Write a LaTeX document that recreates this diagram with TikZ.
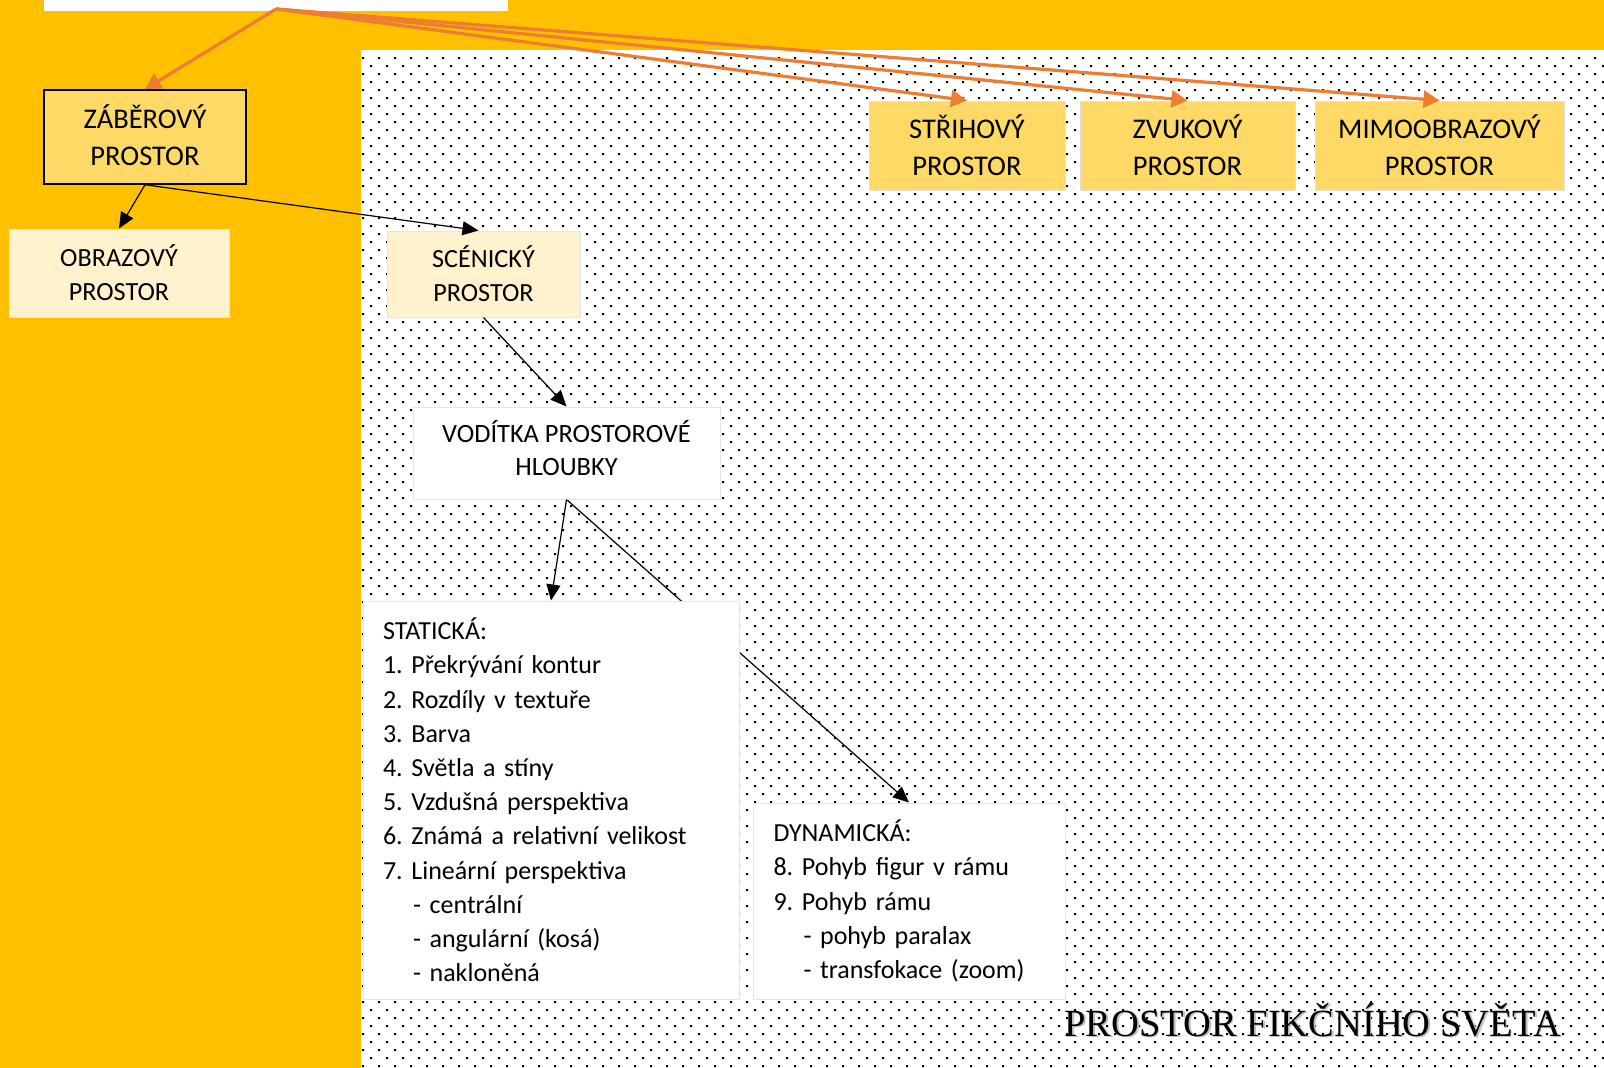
\documentclass[tikz,border=0pt]{standalone}
\usepackage{fontspec}
\setmainfont{Carlito}
\newfontfamily\titlefont{Liberation Serif}
\usetikzlibrary{arrows.meta}
\frenchspacing

\definecolor{bgyellow}{HTML}{FFC000}
\definecolor{boxgold}{HTML}{FFD966}
\definecolor{boxcream}{HTML}{FFF2CC}
\definecolor{arrorange}{HTML}{ED7D31}

\pgfdeclarelayer{bg}
\pgfdeclarelayer{hidden}
\pgfsetlayers{bg,hidden,main}

\begin{document}
\begin{tikzpicture}[x=1pt,y=-1pt,
  box/.style={rectangle, inner sep=0pt, align=center, text=black},
  goldbox/.style={box, fill=boxgold, draw=black!12, line width=1pt,
    font=\fontsize{28.5}{37}\selectfont},
  creambox/.style={box, fill=boxcream, draw=black!10, line width=1pt,
    font=\fontsize{26.2}{34}\selectfont},
  whitebox/.style={box, fill=white, draw=black!10, line width=1pt},
  listbox/.style={whitebox, align=left, inner xsep=20pt,
    font=\frenchspacing\fontsize{26}{34.2}\selectfont},
  orangearrow/.style={draw=arrorange, line width=3.2pt,
    -{Triangle[length=16pt,width=17pt]}},
  blackarrow/.style={draw=black, line width=1.2pt,
    -{Triangle[length=16pt,width=14pt]}},
]

% background and dotted panel
\begin{pgfonlayer}{bg}
  \fill[bgyellow] (0,0) rectangle (1604,1068);
  \useasboundingbox (0,0) rectangle (1604,1068);
  \fill[white] (361,50) rectangle (1604,1068);
  \foreach \r in {0,...,126} {
    \pgfmathsetmacro\yy{57+8*\r}
    \pgfmathsetmacro\off{8*mod(\r,2)}
    \fill[black] \foreach \c in {0,...,77}
      {(\off+362+16*\c,\yy) rectangle ++(2,2)};
  }
\end{pgfonlayer}

% source box at the top edge
\node[box, fill=white, minimum width=464pt, minimum height=11pt] (top) at (276,5.5) {};
\coordinate (src) at (276,9);

% upper row
\node[goldbox, draw=black, line width=1.5pt, minimum width=202pt, minimum height=94pt,
  text depth=4pt]
  (zab) at (145,137) {ZÁBĚROVÝ\\PROSTOR};
\node[goldbox, minimum width=196pt, minimum height=89pt]
  (strih) at (967,145.5) {STŘIHOVÝ\\PROSTOR};
\node[goldbox, minimum width=215pt, minimum height=89pt]
  (zvuk) at (1187.5,145.5) {ZVUKOVÝ\\PROSTOR};
\node[goldbox, minimum width=249pt, minimum height=89pt]
  (mimo) at (1439.5,145.5) {MIMOOBRAZOVÝ\\PROSTOR};

% second row
\node[creambox, minimum width=220pt, minimum height=88pt]
  (obr) at (119,273) {OBRAZOVÝ\\PROSTOR};
\node[creambox, minimum width=193pt, minimum height=86pt]
  (scen) at (483.5,274) {SCÉNICKÝ\\PROSTOR};

% depth cues
\node[whitebox, minimum width=307pt, minimum height=92pt, text depth=10pt,
  font=\fontsize{26.4}{32.5}\selectfont]
  (vod) at (566.5,453) {VODÍTKA PROSTOROVÉ\\HLOUBKY};

\node[listbox, minimum width=376pt, minimum height=398pt, text width=336pt]
  (stat) at (551,800) {STATICKÁ:\\
  1. Překrývání kontur\\
  2. Rozdíly v textuře\\
  3. Barva\\
  4. Světla a stíny\\
  5. Vzdušná perspektiva\\
  6. Známá a relativní velikost\\
  7. Lineární perspektiva\\
  \hspace*{30pt}- centrální\\
  \hspace*{30pt}- angulární (kosá)\\
  \hspace*{30pt}- nakloněná};

\node[listbox, minimum width=312pt, minimum height=196pt, text width=271pt]
  (dyn) at (909,901) {DYNAMICKÁ:\\
  8. Pohyb figur v rámu\\
  9. Pohyb rámu\\
  \hspace*{30pt}- pohyb paralax\\
  \hspace*{30pt}- transfokace (zoom)};

% title with its soft shadow
\node[anchor=base west, text=black!25, font=\titlefont\fontsize{38.5}{40}\selectfont]
  (titleshadow) at (1062.5,1037.5) {PROSTOR FIKČNÍHO SVĚTA};
\node[anchor=base west, font=\titlefont\fontsize{38.5}{40}\selectfont]
  (title) at (1061,1036) {PROSTOR FIKČNÍHO SVĚTA};

% orange connectors from the source
\draw[orangearrow] (src) -- (zab.north);
\draw[orangearrow] (src) -- (strih.north);
\draw[orangearrow] (src) -- (zvuk.north);
\draw[orangearrow] (src) -- (mimo.north);

% black connectors
\draw[blackarrow] (zab.south) -- (obr.north);
\draw[blackarrow] (zab.south) -- ([xshift=-5pt]scen.north);
\draw[blackarrow] (scen.south) -- (vod.north);
\draw[blackarrow] (vod.south) -- (stat.north);
\begin{pgfonlayer}{hidden}
  \draw[blackarrow] (vod.south) -- (dyn.north);
\end{pgfonlayer}

\end{tikzpicture}
\end{document}
